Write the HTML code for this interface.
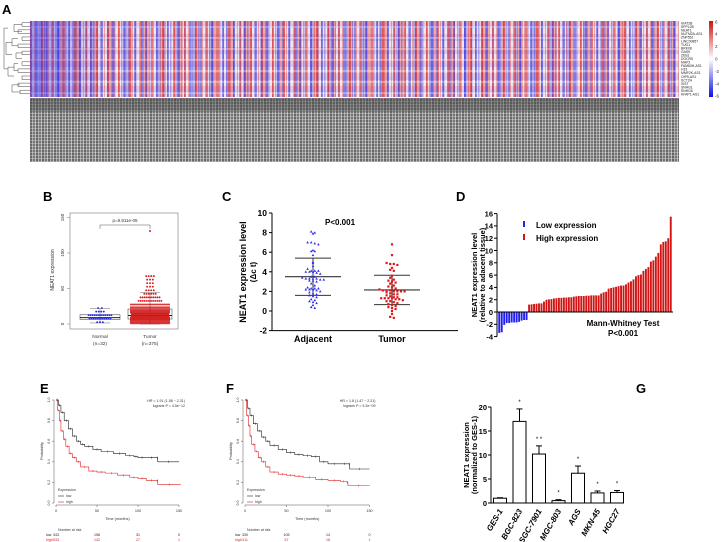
<!DOCTYPE html>
<html><head><meta charset="utf-8"><style>
html,body{margin:0;padding:0;background:#fff;}
#root{position:relative;width:724px;height:542px;overflow:hidden;font-family:"Liberation Sans",sans-serif;}
#hm{position:absolute;left:30px;top:21px;width:649px;height:76px;
background:
linear-gradient(90deg,rgba(40,40,230,.4) 0,rgba(40,40,230,.2) 45px,rgba(0,0,0,0) 75px),
repeating-linear-gradient(180deg,rgba(255,255,255,.0) 0 5px,rgba(255,255,255,.3) 5px 7px,rgba(0,0,0,0) 7px 11px),
repeating-linear-gradient(90deg,rgba(215,30,30,.55) 0 2px,rgba(0,0,0,0) 2px 5px,rgba(40,40,225,.5) 5px 7px,rgba(0,0,0,0) 7px 11px),
repeating-linear-gradient(90deg,rgba(40,40,225,.35) 0 1.5px,rgba(0,0,0,0) 1.5px 4px,rgba(215,30,30,.35) 4px 5px,rgba(0,0,0,0) 5px 7px),
repeating-linear-gradient(90deg,rgba(0,0,0,0) 0 9px,rgba(40,40,225,.3) 9px 12px,rgba(215,30,30,.3) 12px 17px),
repeating-linear-gradient(180deg,rgba(215,30,30,.15) 0 3.5px,rgba(40,40,225,.15) 3.5px 7px,rgba(0,0,0,0) 7px 13px),
#f2e6ee;}
#txt{position:absolute;left:30px;top:98px;width:649px;height:64px;
background:
linear-gradient(180deg,rgba(70,70,70,.5) 0,rgba(70,70,70,.4) 13px,rgba(0,0,0,0) 14px),
repeating-linear-gradient(180deg,rgba(255,255,255,.3) 0 1px,rgba(0,0,0,0) 1px 3px),
repeating-linear-gradient(90deg,#666 0 2px,#a8a8a8 2px 3px,#777 3px 5px,#b8b8b8 5px 6px),
#808080;}
</style></head><body>
<div id="root">
<div id="hm"></div>
<div id="txt"></div>
<svg id="svg" width="724" height="542" style="position:absolute;left:0;top:0" xmlns="http://www.w3.org/2000/svg">
<defs><linearGradient id="cb" x1="0" y1="0" x2="0" y2="1"><stop offset="0" stop-color="#d01010"/><stop offset=".5" stop-color="#fff"/><stop offset="1" stop-color="#1010e0"/></linearGradient></defs>
<g font-weight="bold" font-size="13" fill="#000">
<text x="2" y="14">A</text>
<text x="43" y="201">B</text>
<text x="222" y="201">C</text>
<text x="456" y="201">D</text>
<text x="40" y="393">E</text>
<text x="226" y="393">F</text>
<text x="636" y="393">G</text>
</g>
<rect x="709" y="21" width="4" height="76" fill="url(#cb)"/>
<g id="g" ></g>
</svg>
</div>
<script>
// ---- data ----
const genes=["KIAT2B","SPPL2B","NEAT1","NUTM2A-AS1","ZNF552","LINC00857","TUG1","BRK08","GAS5","ZEB1","DGCR5","MAP2","FAM83H-AS1","H19","MMP2K-AS1","OIP5-AS1","SCT2H","XIST","SNHG1","SNHG6","KFAP1-AS1"];
const cbTicks=[6,4,2,0,-2,-4,-6];
const bNormalBins=[3,11,12,4,2];
const bTumorBins=[60,80,75,60,40,20,12,10,6,4,3,3,3,4];
const bOutlier=131;
const bNormalBox=[1.5,6.5,9,13,22];
const bTumorBox=[0,7,12,21,44];
const bTicks=[0,50,100,150];
const cAdj=[8.1,8.0,7.9,7.0,7.0,6.9,6.8,6.2,6.1,6.1,5.7,5.0,4.9,4.6,4.3,4.1,4.1,4.1,4.0,4.0,4.0,3.9,3.8,3.5,3.5,3.4,3.3,3.3,3.3,3.3,3.2,3.2,3.1,3.1,3.0,2.8,2.6,2.4,2.3,2.3,2.3,2.2,2.2,2.2,2.1,2.0,1.9,1.8,1.7,1.6,1.5,1.4,1.2,1.1,1.0,0.9,0.8,0.6,0.4,0.3];
const cTum=[6.8,5.7,4.9,4.8,4.8,4.7,4.4,4.2,4.1,3.6,3.4,3.2,3.1,3.0,2.9,2.8,2.6,2.5,2.4,2.3,2.2,2.1,2.1,2.1,2.0,2.0,2.0,2.0,1.9,1.8,1.7,1.7,1.6,1.5,1.4,1.4,1.3,1.3,1.3,1.3,1.2,1.2,1.1,1.0,1.0,0.9,0.8,0.7,0.6,0.5,0.4,0.3,0.2,0.0,-0.3,-0.6,-0.7];
const cAdjStats=[3.5,5.4,1.6];
const cTumStats=[2.15,3.65,0.65];
const cTicks=[-2,0,2,4,6,8,10];
const dLow=[-3.4,-3.3,-2.1,-1.8,-1.8,-1.7,-1.7,-1.7,-1.6,-1.4,-1.3,-1.3];
const dHigh=[1.2,1.25,1.3,1.35,1.4,1.4,1.7,2.0,2.05,2.1,2.2,2.25,2.3,2.3,2.35,2.35,2.4,2.4,2.5,2.55,2.6,2.6,2.6,2.65,2.65,2.7,2.7,2.7,2.7,3.0,3.2,3.3,3.8,3.9,4.0,4.1,4.2,4.3,4.3,4.5,4.8,5.0,5.3,5.8,6.0,6.1,6.7,7.0,7.3,8.2,8.4,9.0,9.6,11.0,11.4,11.5,12.0,15.5];
const dTicks=[-4,-2,0,2,4,6,8,10,12,14,16];
const eLowT=[0,3,6,10,15,20,25,30,35,45,55,70,85,95,100,110,123,124,150];
const eLowS=[1,.95,.88,.8,.72,.65,.6,.57,.55,.52,.5,.48,.46,.45,.44,.44,.44,.4,.4];
const eHighT=[0,2,4,6,9,12,16,20,25,30,40,50,60,75,90,100,110,123,124,152];
const eHighS=[1,.9,.8,.7,.62,.55,.48,.44,.4,.35,.31,.3,.29,.27,.25,.24,.22,.22,.18,.18];
const fLowT=[0,3,6,10,15,20,25,30,40,50,60,70,80,90,100,115,125,126,150];
const fLowS=[1,.92,.85,.77,.7,.64,.6,.56,.52,.49,.47,.46,.45,.4,.38,.38,.38,.33,.33];
const fHighT=[0,2,4,6,8,12,16,20,25,30,40,50,60,70,85,100,115,123,124,150];
const fHighS=[1,.85,.75,.65,.57,.5,.44,.4,.35,.3,.28,.27,.26,.25,.23,.22,.21,.2,.17,.17];
const kmTicks=[0,50,100,150];
const kmYTicks=[0,0.2,0.4,0.6,0.8,1.0];
const gCats=["GES-1","BGC-823","SGC-7901","MGC-803","AGS","MKN-45","HGC27"];
const gVals=[1,17,10.2,0.5,6.2,2.1,2.2];
const gErr=[0.1,2.6,1.7,0.2,1.5,0.4,0.4];
const gStars=["","*","* *","*","*","*","*"];
const gTicks=[0,5,10,15,20];

const NS="http://www.w3.org/2000/svg";
const G=document.getElementById('g');
function el(tag,at,parent,txt){const e=document.createElementNS(NS,tag);for(const k in at)e.setAttribute(k,at[k]);if(txt!==undefined)e.textContent=txt;(parent||G).appendChild(e);return e;}
function grp(){return el('g',{});}

// ---- A ----
let ga=grp();


genes.forEach((n,i)=>{const t=el('text',{x:681,y:24.5+i*3.55,'font-size':3.4,fill:'#222'},ga,n);

});
let gcb=grp();


cbTicks.forEach(v=>{const y=59-v*6.2;const t=el('text',{x:715,y:y+1.5,'font-size':4.5,fill:'#333'},gcb,v);

});
let gd=grp();


const dendro=[[22,30,1,2],[18,30,3,4],[14,22,1.5,3.5],[22,30,5,6],[18,30,7,8],[12,18,5.5,7.5],[22,30,9,10],[16,22,9.5,11],[22,30,12,13],[18,30,14,15],[14,18,12.5,14.5],[22,30,16,17],[18,30,18,19],[20,30,20,21],[12,20,18.5,20.5],[8,14,13.5,16],[6,12,6.5,10],[4,8,2.5,14]];
dendro.forEach(d=>{const y1=21+d[2]*3.55-1.8,y2=21+d[3]*3.55-1.8;
el('path',{d:`M${d[1]} ${y1}H${d[0]}V${y2}H${d[1]}`,fill:'none',stroke:'#444','stroke-width':.5},gd);});

// ---- B ----
const yB=v=>324-v*0.71;
let gb=grp();


el('rect',{x:70,y:213,width:108,height:116,fill:'none',stroke:'#777','stroke-width':.6},gb);
bTicks.forEach(v=>{el('line',{x1:67,x2:70,y1:yB(v),y2:yB(v),stroke:'#777','stroke-width':.5},gb);
const t=el('text',{x:64,y:yB(v),'font-size':4.5,fill:'#333','text-anchor':'middle',transform:`rotate(-90 64 ${yB(v)})`},gb,v);

});
let byl=el('text',{x:54,y:270,'font-size':5,fill:'#333','text-anchor':'middle',transform:'rotate(-90 54 270)'},gb,'NEAT1 expression');


function swarm(bins,cx,maxW,color,parent){
  bins.forEach((c,i)=>{const rows=Math.max(1,Math.ceil(c/22));
    for(let r=0;r<rows;r++){const n=Math.ceil(c/rows);const w=Math.min(maxW,n*1.9);
      for(let k=0;k<n;k++){const x=cx-w/2+(n>1?k*w/(n-1):w/2);const v=i*5+(r+0.5)*5/rows;
        el('circle',{cx:x,cy:yB(v),r:0.95,fill:color},parent);}}});
}
function box(b,cx,w,parent){
  el('line',{x1:cx,x2:cx,y1:yB(b[0]),y2:yB(b[4]),stroke:'#666','stroke-width':.5},parent);
  [b[0],b[4]].forEach(v=>el('line',{x1:cx-10,x2:cx+10,y1:yB(v),y2:yB(v),stroke:'#666','stroke-width':.5},parent));
  el('rect',{x:cx-w/2,y:yB(b[3]),width:w,height:yB(b[1])-yB(b[3]),fill:'none',stroke:'#555','stroke-width':.6},parent);
  el('line',{x1:cx-w/2,x2:cx+w/2,y1:yB(b[2]),y2:yB(b[2]),stroke:'#222','stroke-width':1},parent);
}
box(bNormalBox,100,40,gb);box(bTumorBox,150,44,gb);
let sn=grp();
swarm(bNormalBins,100,36,'#2a2ae0',sn);
let st=grp();
swarm(bTumorBins,150,44,'#d21a1a',st);
el('circle',{cx:150,cy:yB(bOutlier),r:1,fill:'#d21a1a'},st);
el('path',{d:'M100 229V225H150V229',fill:'none',stroke:'#555','stroke-width':.5},gb);
let bp=el('text',{x:125,y:222,'font-size':4.5,'text-anchor':'middle',fill:'#333'},gb,'p=9.911e-05');

[['Normal',100,'(n=32)'],['Tumor',150,'(n=375)']].forEach(a=>{
const t=el('text',{x:a[1],y:338,'font-size':4.8,'text-anchor':'middle',fill:'#333'},gb,a[0]);

const t2=el('text',{x:a[1],y:345,'font-size':4.8,'text-anchor':'middle',fill:'#333'},gb,a[2]);
});

// ---- C ----
const yC=v=>311-v*9.8;
let gc=grp();
el('line',{x1:272,x2:272,y1:yC(10),y2:yC(-2),stroke:'#000','stroke-width':1},gc);
el('line',{x1:272,x2:458,y1:yC(-2),y2:yC(-2),stroke:'#000','stroke-width':1},gc);
cTicks.forEach(v=>{el('line',{x1:269,x2:272,y1:yC(v),y2:yC(v),stroke:'#000','stroke-width':1},gc);
const t=el('text',{x:267,y:yC(v)+3,'font-size':8.5,'font-weight':'bold','text-anchor':'end'},gc,v);
});
let cy1=el('text',{x:246,y:272,'font-size':9,'font-weight':'bold','text-anchor':'middle',transform:'rotate(-90 246 272)'},gc,'NEAT1 expression level');

let cy2=el('text',{x:256,y:272,'font-size':8,'font-weight':'bold','text-anchor':'middle',transform:'rotate(-90 256 272)'},gc,'(Δc t)');

function bee(vals,cx,color,tri,parent){
  const bins={};vals.forEach(v=>{const k=Math.round(v/0.3);(bins[k]=bins[k]||[]).push(v);});
  Object.keys(bins).forEach(k=>{const a=bins[k];a.forEach((v,i)=>{const x=cx+(i-(a.length-1)/2)*3.6;const y=yC(v);
    if(tri)el('path',{d:`M${x} ${y-1.4}L${x+1.3} ${y+1}L${x-1.3} ${y+1}Z`,fill:color},parent);
    else el('rect',{x:x-1.1,y:y-1.1,width:2.2,height:2.2,fill:color},parent);});});
}
let ca=grp();
bee(cAdj,313,'#2b2bf0',true,ca);
let ct=grp();
bee(cTum,392,'#e01818',false,ct);
[[cAdjStats,313],[cTumStats,392]].forEach(s=>{const st=s[0],cx=s[1];
el('line',{x1:cx-28,x2:cx+28,y1:yC(st[0]),y2:yC(st[0]),stroke:'#333','stroke-width':1.1},gc);
el('line',{x1:cx-18,x2:cx+18,y1:yC(st[1]),y2:yC(st[1]),stroke:'#333','stroke-width':1},gc);
el('line',{x1:cx-18,x2:cx+18,y1:yC(st[2]),y2:yC(st[2]),stroke:'#333','stroke-width':1},gc);
el('line',{x1:cx,x2:cx,y1:yC(st[1]),y2:yC(st[2]),stroke:'#333','stroke-width':1},gc);});
[['Adjacent',313],['Tumor',392]].forEach(a=>{const t=el('text',{x:a[1],y:342,'font-size':9,'font-weight':'bold','text-anchor':'middle'},gc,a[0]);
});
let cp=el('text',{x:340,y:225,'font-size':8,'font-weight':'bold','text-anchor':'middle'},gc,'P<0.001');


// ---- D ----
const yD=v=>312-v*6.15;
let gD=grp();
const allD=dLow.concat(dHigh);const pitch=174/allD.length;
allD.forEach((v,i)=>{const x=498+i*pitch;const r=el('rect',{x:x+0.3,y:Math.min(yD(v),yD(0)),width:pitch-0.6,height:Math.abs(yD(v)-yD(0)),fill:i<dLow.length?'#2020f0':'#d21414'},gD);

});
el('line',{x1:497,x2:497,y1:yD(16),y2:yD(-4),stroke:'#000','stroke-width':1},gD);
el('line',{x1:497,x2:673,y1:yD(0),y2:yD(0),stroke:'#000','stroke-width':1},gD);
dTicks.forEach(v=>{el('line',{x1:494,x2:497,y1:yD(v),y2:yD(v),stroke:'#000','stroke-width':1},gD);
const t=el('text',{x:493,y:yD(v)+2.8,'font-size':7.5,'font-weight':'bold','text-anchor':'end'},gD,v);
});
let dy1=el('text',{x:477,y:275,'font-size':7.5,'font-weight':'bold','text-anchor':'middle',transform:'rotate(-90 477 275)'},gD,'NEAT1 expression level');

let dy2=el('text',{x:485,y:275,'font-size':7.5,'font-weight':'bold','text-anchor':'middle',transform:'rotate(-90 485 275)'},gD,'(relative to adacent tissue)');

[['Low expression','#2020f0',228],['High expression','#d21414',241]].forEach(l=>{
el('rect',{x:523,y:l[2]-7,width:2,height:6,fill:l[1]},gD);
const t=el('text',{x:536,y:l[2],'font-size':8,'font-weight':'bold'},gD,l[0]);
});
let dm=el('text',{x:623,y:326,'font-size':8,'font-weight':'bold','text-anchor':'middle'},gD,'Mann-Whitney Test');

let dp=el('text',{x:623,y:336,'font-size':8,'font-weight':'bold','text-anchor':'middle'},gD,'P<0.001');


// ---- E / F ----
function km(x0,sc,lowT,lowS,highT,highS,hr,lp,risk,name){
  const xK=t=>x0+t*sc, yK=p=>503-p*103;
  const g=grp();
  el('line',{x1:x0-2,x2:x0-2,y1:yK(1),y2:yK(0),stroke:'#555','stroke-width':.5},g);
  el('line',{x1:x0,x2:xK(150),y1:505,y2:505,stroke:'#555','stroke-width':.5},g);
  kmYTicks.forEach(v=>{el('line',{x1:x0-4,x2:x0-2,y1:yK(v),y2:yK(v),stroke:'#555','stroke-width':.5},g);
   const t=el('text',{x:x0-6,y:yK(v),'font-size':3.6,fill:'#333','text-anchor':'middle',transform:`rotate(-90 ${x0-6} ${yK(v)})`},g,v.toFixed(1));
   });
  kmTicks.forEach(v=>{el('line',{x1:xK(v),x2:xK(v),y1:505,y2:507,stroke:'#555','stroke-width':.5},g);
   const t=el('text',{x:xK(v),y:512,'font-size':3.8,fill:'#333','text-anchor':'middle'},g,v);
   });
  const yl=el('text',{x:x0-13,y:451,'font-size':3.8,fill:'#333','text-anchor':'middle',transform:`rotate(-90 ${x0-13} 451)`},g,'Probability');
  
  const xl=el('text',{x:xK(75),y:520,'font-size':3.8,fill:'#333','text-anchor':'middle'},g,'Time (months)');
  
  [[lowT,lowS,'#222','low-curve'],[highT,highS,'#dd2222','high-curve']].forEach(c=>{
    let d=`M${xK(c[0][0])} ${yK(c[1][0])}`;
    for(let i=1;i<c[0].length;i++){d+=`H${xK(c[0][i])}V${yK(c[1][i])}`;}
    const p=el('path',{d:d,fill:'none',stroke:c[2],'stroke-width':.6},g);
    
    for(let i=1;i<c[0].length;i++){const xm=(xK(c[0][i-1])+xK(c[0][i]))/2;
      el('line',{x1:xm,x2:xm,y1:yK(c[1][i-1])-1.2,y2:yK(c[1][i-1])+1.2,stroke:c[2],'stroke-width':.4},g);}
  });
  const h1=el('text',{x:xK(150)+6,y:402,'font-size':3.6,fill:'#333','text-anchor':'end'},g,hr);
  
  const h2=el('text',{x:xK(150)+6,y:407,'font-size':3.6,fill:'#333','text-anchor':'end'},g,lp);
  
  const le=el('text',{x:x0+2,y:491,'font-size':3.6,fill:'#333'},g,'Expression');
  
  [['low','#222',497],['high','#dd2222',503]].forEach(l=>{el('line',{x1:x0+2,x2:x0+8,y1:l[2]-1,y2:l[2]-1,stroke:l[1],'stroke-width':.6},g);
   const t=el('text',{x:x0+10,y:l[2],'font-size':3.6,fill:'#333'},g,l[0]);});
  const nr=el('text',{x:x0+2,y:531,'font-size':3.6,fill:'#333'},g,'Number at risk');
  
  [['low','#222',536,risk[0]],['high','#dd2222',541,risk[1]]].forEach(r=>{
   const t=el('text',{x:x0-10,y:r[2],'font-size':3.6,fill:r[1]},g,r[0]);
   kmTicks.forEach((v,i)=>{const n=el('text',{x:xK(v),y:r[2],'font-size':3.6,fill:r[1],'text-anchor':'middle'},g,r[3][i]);});});
}
km(56,0.82,eLowT,eLowS,eHighT,eHighS,'HR = 1.91 (1.58 − 2.31)','logrank P = 4.5e−12',[[343,156,31,0],[533,142,27,1]],'panel-e-km');
km(245,0.83,fLowT,fLowS,fHighT,fHighS,'HR = 1.8 (1.47 − 2.21)','logrank P = 9.2e−09',[[330,105,14,0],[311,57,16,1]],'panel-f-km');

// ---- G ----
const yG=v=>503-v*4.8, xG=i=>500+i*19.5;
let gg=grp();
gVals.forEach((v,i)=>{const x=xG(i);
 el('line',{x1:x,x2:x,y1:yG(v),y2:yG(v+gErr[i]),stroke:'#000','stroke-width':1},gg);
 el('line',{x1:x-3,x2:x+3,y1:yG(v+gErr[i]),y2:yG(v+gErr[i]),stroke:'#000','stroke-width':1},gg);
 const r=el('rect',{x:x-6.5,y:yG(v),width:13,height:yG(0)-yG(v),fill:'#fff',stroke:'#000','stroke-width':1},gg);
 
 const s=el('text',{x:x,y:yG(v+gErr[i])-5,'font-size':6,'text-anchor':'middle'},gg,gStars[i]);
 
 const t=el('text',{x:x+3,y:511,'font-size':8,'font-weight':'bold','font-style':'italic','text-anchor':'end',transform:`rotate(-60 ${x+3} 511)`},gg,gCats[i]);
 });
el('line',{x1:491,x2:491,y1:yG(20),y2:yG(0),stroke:'#000','stroke-width':1},gg);
el('line',{x1:491,x2:624,y1:yG(0),y2:yG(0),stroke:'#000','stroke-width':1},gg);
gTicks.forEach(v=>{el('line',{x1:488,x2:491,y1:yG(v),y2:yG(v),stroke:'#000','stroke-width':1},gg);
 const t=el('text',{x:487,y:yG(v)+2.8,'font-size':7.5,'font-weight':'bold','text-anchor':'end'},gg,v);
 });
let gy1=el('text',{x:469,y:455,'font-size':7.5,'font-weight':'bold','text-anchor':'middle',transform:'rotate(-90 469 455)'},gg,'NEAT1 expression');

let gy2=el('text',{x:477,y:455,'font-size':7.5,'font-weight':'bold','text-anchor':'middle',transform:'rotate(-90 477 455)'},gg,'(normalized to GES-1)');

</script>
</body></html>
